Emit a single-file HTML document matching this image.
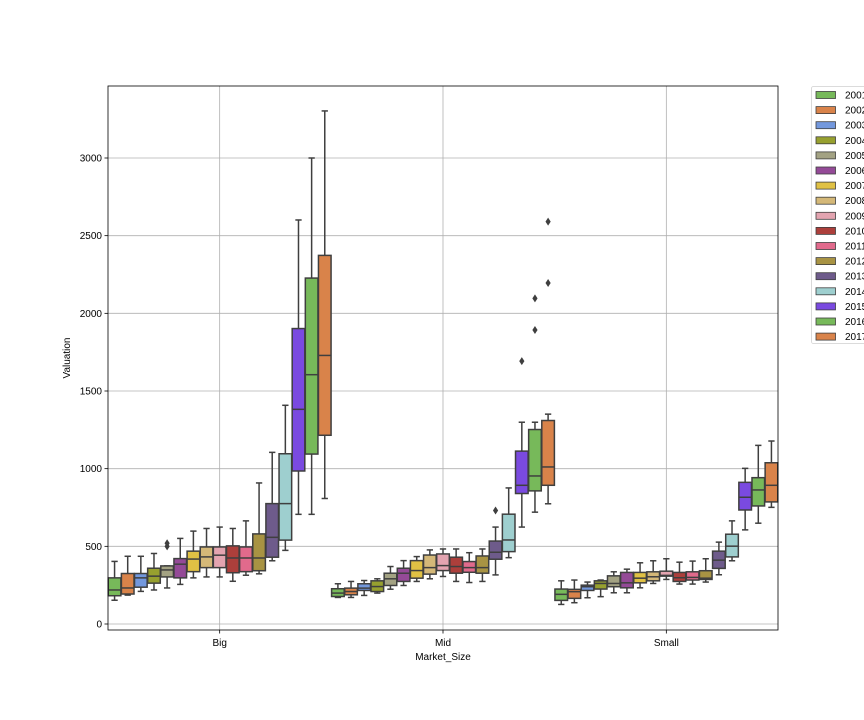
<!DOCTYPE html>
<html><head><meta charset="utf-8"><style>
html,body{margin:0;padding:0;background:#fff;width:864px;height:720px;overflow:hidden}
svg text{font-family:"Liberation Sans","DejaVu Sans",sans-serif;font-size:10px;fill:#000}
</style></head><body>
<svg id="chart" width="864" height="720" xmlns="http://www.w3.org/2000/svg">
<g id="grid"></g>
<g id="boxes"></g>
<rect x="108" y="86" width="670" height="544" fill="none" stroke="#000" stroke-width="0.8"/>
<g id="axes"></g>
<text x="443" y="660" text-anchor="middle">Market_Size</text>
<text x="70" y="358" text-anchor="middle" transform="rotate(-90 70 358)">Valuation</text>
<g id="legend"></g>
</svg>
<script>
const categories = ["Big","Mid","Small"];
const years = ["2001","2002","2003","2004","2005","2006","2007","2008","2009","2010","2011","2012","2013","2014","2015","2016","2017"];
const yTicks = [0,500,1000,1500,2000,2500,3000];
// [low whisker, q1, median, q3, high whisker]
const bigStats = [[153,182,219,297,403],[186,193,232,325,436],[210,237,297,325,436],[219,263,308,359,454],[232,303,348,374,374],[255,297,385,421,551],[297,337,418,469,598],[303,363,432,496,615],[303,363,443,496,624],[275,330,425,503,615],[314,337,425,496,664],[323,343,425,580,908],[407,430,558,775,1105],[474,540,775,1096,1408],[706,985,1382,1902,2601],[706,1094,1605,2227,3000],[808,1215,1729,2373,3303]];
const midStats = [[171,177,199,227,259],[171,188,209,231,274],[184,216,231,259,280],[199,209,241,278,291],[224,248,291,327,370],[248,274,327,359,408],[274,295,344,408,434],[291,321,363,444,477],[306,344,376,451,483],[274,327,370,430,483],[267,333,363,402,459],[274,327,363,438,483],[316,417,462,534,624],[427,466,541,707,876],[624,840,893,1113,1299],[720,857,953,1252,1299],[774,893,1011,1310,1351]];
const smallStats = [[126,152,191,225,278],[137,165,208,223,283],[169,216,240,250,270],[176,225,261,278,283],[201,240,261,310,336],[201,233,265,332,353],[233,265,295,332,394],[261,278,304,336,407],[287,308,313,340,420],[257,274,298,332,398],[257,283,300,336,405],[270,287,295,343,420],[317,358,411,469,527],[407,432,501,578,664],[606,734,816,912,1002],[649,760,863,942,1150],[751,786,893,1038,1178]];
const bigOutliers = [[],[],[],[],[500,520],[],[],[],[],[],[],[],[],[],[],[],[]];
const midOutliers = [[],[],[],[],[],[],[],[],[],[],[],[],[731],[],[1692],[1893,2096],[2195,2590]];
const smallOutliers = [[],[],[],[],[],[],[],[],[],[],[],[],[],[],[],[],[]];
const colors = ["#77b95a","#d9834a","#7398dd","#97a02f","#a3a283","#944a97","#e0c144","#d4b878","#e3a4b0","#ac3f3b","#e16a8c","#a89343","#6e5b8b","#9ecfcf","#7a4ae0","#77b95a","#d9834a"];

const NS="http://www.w3.org/2000/svg";
const L=108,R=778,T=86,B=630;
const y0=624, pxPer=466/3000;
function yS(v){return y0 - v*pxPer;}
const groupW=(R-L)/categories.length;
function xC(i){return L+groupW*(i+0.5);}
const bw=groupW/years.length;
function mk(tag,attrs,parent){const e=document.createElementNS(NS,tag);for(const k in attrs)e.setAttribute(k,attrs[k]);parent.appendChild(e);return e;}
const grid=document.getElementById('grid'),axes=document.getElementById('axes'),boxes=document.getElementById('boxes'),leg=document.getElementById('legend');
yTicks.forEach(t=>{
  const y=yS(t);
  const g=mk('line',{x1:L,x2:R,y1:y,y2:y,stroke:'#b0b0b0','stroke-width':0.8},grid);
  
  
  const tk=mk('line',{x1:L-3.5,x2:L,y1:y,y2:y,stroke:'#000','stroke-width':0.8},axes);
  
  
  const tx=mk('text',{x:L-6,y:y+3.5,'text-anchor':'end'},axes);
  tx.textContent=t;
  
  
});
categories.forEach((c,i)=>{
  const x=xC(i);
  const g=mk('line',{x1:x,x2:x,y1:T,y2:B,stroke:'#b0b0b0','stroke-width':0.8},grid);
  
  
  const tk=mk('line',{x1:x,x2:x,y1:B,y2:B+3.5,stroke:'#000','stroke-width':0.8},axes);
  
  
  const tx=mk('text',{x:x,y:B+16,'text-anchor':'middle'},axes);
  tx.textContent=c;
  
  
});
const allStats=[bigStats,midStats,smallStats], allOut=[bigOutliers,midOutliers,smallOutliers];
const ec='#3f3f3f';
allStats.forEach((stats,gi)=>{
  stats.forEach((s,yi)=>{
    const cx=xC(gi)-groupW/2+bw*(yi+0.5);
    const w=bw*0.96;
    const g=mk('g',{},boxes);
    
    
    mk('line',{x1:cx,x2:cx,y1:yS(s[0]),y2:yS(s[1]),stroke:ec,'stroke-width':1.5},g);
    mk('line',{x1:cx,x2:cx,y1:yS(s[3]),y2:yS(s[4]),stroke:ec,'stroke-width':1.5},g);
    mk('line',{x1:cx-w/4,x2:cx+w/4,y1:yS(s[0]),y2:yS(s[0]),stroke:ec,'stroke-width':1.5},g);
    mk('line',{x1:cx-w/4,x2:cx+w/4,y1:yS(s[4]),y2:yS(s[4]),stroke:ec,'stroke-width':1.5},g);
    mk('rect',{x:cx-w/2,y:yS(s[3]),width:w,height:Math.max(0.5,yS(s[1])-yS(s[3])),fill:colors[yi],stroke:ec,'stroke-width':1.5},g);
    mk('line',{x1:cx-w/2,x2:cx+w/2,y1:yS(s[2]),y2:yS(s[2]),stroke:ec,'stroke-width':1.5},g);
    allOut[gi][yi].forEach(o=>{
      const y=yS(o);
      const p=mk('path',{d:`M${cx},${y-4} L${cx+2.6},${y} L${cx},${y+4} L${cx-2.6},${y} Z`,fill:ec},g);
      
      
    });
  });
});
const lr=mk('rect',{x:811.5,y:86.5,width:70,height:257,rx:2,fill:'#fff',stroke:'#d0d0d0','stroke-width':0.8},leg);


years.forEach((yr,i)=>{
  const y=95+i*15.1;
  const g=mk('g',{},leg);
  
  
  mk('rect',{x:816,y:y-3.5,width:19.5,height:7,fill:colors[i],stroke:ec,'stroke-width':0.8},g);
  const t=mk('text',{x:845,y:y+3.5},g);
  t.textContent=yr;
});
</script>
</body></html>
